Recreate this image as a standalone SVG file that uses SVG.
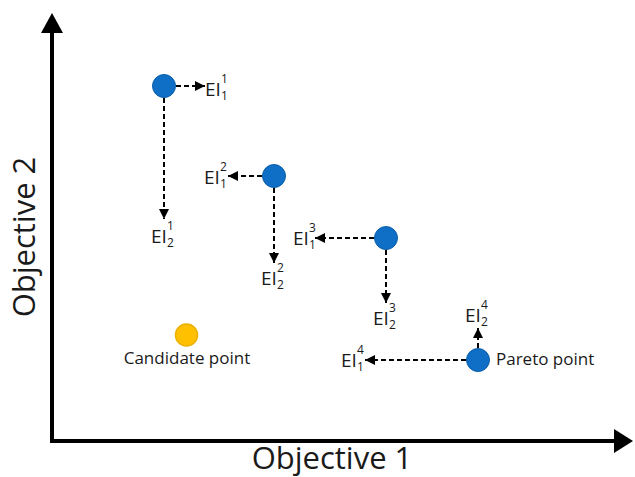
<svg xmlns="http://www.w3.org/2000/svg" width="635" height="477" viewBox="0 0 635 477">
  <style>
    text { font-family: "Open Sans", "Noto Sans", sans-serif; fill: #1a1a1a; }
    .axis { stroke: #000; stroke-width: 4; fill: none; }
    .dash { stroke: #000; stroke-width: 2; stroke-dasharray: 5 3; fill: none; marker-end: url(#tip); }
    .pareto { fill: #0F6FC6; stroke: #0B5EA8; stroke-width: 1; }
    .cand { fill: #FFC000; stroke: #EEB000; stroke-width: 1.5; }
    .ei { font-size: 19px; }
    .idx { font-size: 12px; }
    .lbl { font-size: 17px; }
    .title { font-size: 31px; }
  </style>
  <defs>
    <marker id="tip" markerUnits="userSpaceOnUse" markerWidth="10" markerHeight="10" refX="10" refY="5" orient="auto">
      <path d="M0,0 L10,5 L0,10 z" fill="#000"/>
    </marker>
  </defs>

  <!-- axes -->
  <g id="axes">
    <line class="axis" x1="52" y1="443" x2="52" y2="30"/>
    <polygon points="52,13 41,33 63,33" fill="#000"/>
    <line class="axis" x1="50" y1="441" x2="616" y2="441"/>
    <polygon points="633,441 614,429 614,453" fill="#000"/>
    <text class="title" x="332" y="469" text-anchor="middle">Objective 1</text>
    <text class="title" transform="translate(35,237) rotate(-90)" text-anchor="middle">Objective 2</text>
  </g>

  <!-- dashed improvement arrows -->
  <g id="connectors">
    <line class="dash" x1="176" y1="86" x2="205" y2="86"/>
    <line class="dash" x1="164" y1="98" x2="164" y2="219"/>
    <line class="dash" x1="262" y1="176" x2="228" y2="176"/>
    <line class="dash" x1="274" y1="188" x2="274" y2="263"/>
    <line class="dash" x1="374" y1="238" x2="315" y2="238"/>
    <line class="dash" x1="386" y1="250" x2="386" y2="303"/>
    <line class="dash" x1="466" y1="360" x2="365" y2="360"/>
    <line class="dash" x1="478" y1="348" x2="478" y2="328"/>
  </g>

  <g id="p1"><circle class="pareto" cx="164" cy="86" r="11.5"/></g>
  <g id="p2"><circle class="pareto" cx="274" cy="176" r="11.5"/></g>
  <g id="p3"><circle class="pareto" cx="386" cy="238" r="11.5"/></g>
  <g id="p4">
    <circle class="pareto" cx="478" cy="360" r="11.5"/>
    <text class="lbl" x="496" y="365">Pareto point</text>
  </g>
  <g id="candidate">
    <circle class="cand" cx="186.5" cy="335" r="11"/>
    <text class="lbl" x="187" y="364" text-anchor="middle">Candidate point</text>
  </g>

  <!-- EI labels -->
  <g id="ei-1-1"><text class="ei" x="205" y="96">EI</text><text class="idx" x="221" y="83">1</text><text class="idx" x="221" y="100">1</text></g>
  <g id="ei-2-1"><text class="ei" x="151" y="243">EI</text><text class="idx" x="167" y="230">1</text><text class="idx" x="167" y="247">2</text></g>
  <g id="ei-1-2"><text class="ei" x="204" y="184">EI</text><text class="idx" x="220" y="171">2</text><text class="idx" x="220" y="188">1</text></g>
  <g id="ei-2-2"><text class="ei" x="261" y="285">EI</text><text class="idx" x="277" y="272">2</text><text class="idx" x="277" y="289">2</text></g>
  <g id="ei-1-3"><text class="ei" x="293" y="245">EI</text><text class="idx" x="309" y="232">3</text><text class="idx" x="309" y="249">1</text></g>
  <g id="ei-2-3"><text class="ei" x="373" y="325">EI</text><text class="idx" x="389" y="312">3</text><text class="idx" x="389" y="329">2</text></g>
  <g id="ei-1-4"><text class="ei" x="341" y="367">EI</text><text class="idx" x="357" y="354">4</text><text class="idx" x="357" y="371">1</text></g>
  <g id="ei-2-4"><text class="ei" x="465" y="322">EI</text><text class="idx" x="481" y="309">4</text><text class="idx" x="481" y="326">2</text></g>
</svg>
